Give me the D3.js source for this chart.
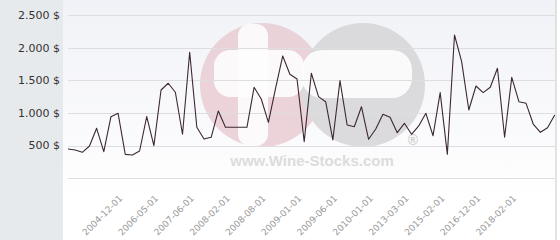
<!DOCTYPE html>
<html><head><meta charset="utf-8">
<script src="https://cdn.jsdelivr.net/npm/d3@7"></script>
<style>html,body{margin:0;padding:0;background:#fff;}svg{display:block;}</style>
</head><body>
<svg id="c" width="560" height="240"></svg>
<script>
const prices = [449,433,398,495,765,408,944,995,367,357,418,944,500,
  1352,1455,1317,674,1930,781,602,628,1031,781,781,781,781,1393,
  1214,857,1378,1873,1593,1521,561,1608,1250,1173,587,1495,816,
  790,1096,597,755,980,934,698,842,674,801,995,652,1311,
  367,2194,1786,1046,1413,1311,1393,1684,628,1546,1173,1148,831,704,775,969];
const tickLabels = ["2004-12-01","2006-05-01","2007-06-01","2008-02-01","2008-08-01","2009-01-01",
  "2009-06-01","2010-01-01","2013-03-01","2015-02-01","2016-12-01","2018-02-01"];
const tickIndex = [7,12,17,22,27,32,37,42,47,52,57,62];
const yTicks = [0,500,1000,1500,2000,2500];

const svg = d3.select("#c");
const W = 560, H = 240;
const x = d3.scalePoint().domain(d3.range(prices.length)).range([68, 554.7]);
const y = d3.scaleLinear().domain([0, 2500]).range([178.3, 15]);

const defs = svg.append("defs");
const g = defs.append("linearGradient").attr("id","bg").attr("x1",0).attr("y1",0).attr("x2",0).attr("y2",1);
g.append("stop").attr("offset","0%").attr("stop-color","#f1f2f7");
g.append("stop").attr("offset","85%").attr("stop-color","#ffffff");

svg.append("rect").attr("x",0).attr("y",0).attr("width",W).attr("height",H).attr("fill","#fff");
svg.append("rect").attr("x",63).attr("y",0).attr("width",493).attr("height",H).attr("fill","url(#bg)");
svg.append("rect").attr("x",0).attr("y",0).attr("width",63).attr("height",H).attr("fill","#e7eaed");
svg.append("line").attr("x1",556).attr("x2",556).attr("y1",0).attr("y2",H).attr("stroke","#c8c8c8");

// watermark
const wm = svg.append("g").attr("opacity",0.85);
wm.append("circle").attr("cx",262).attr("cy",85).attr("r",62).attr("fill","#e9cdd4");
wm.append("circle").attr("cx",363).attr("cy",85).attr("r",62).attr("fill","#d6d6d8");
wm.append("rect").attr("x",238).attr("y",24).attr("width",30).attr("height",122).attr("rx",12).attr("fill","#fff").attr("opacity",0.9);
wm.append("rect").attr("x",214).attr("y",50).attr("width",90).attr("height",47).attr("rx",16).attr("fill","#fff").attr("opacity",0.9);
wm.append("rect").attr("x",302).attr("y",50).attr("width",110).attr("height",48).attr("rx",20).attr("fill","#fff").attr("opacity",0.9);
svg.append("text").attr("x",312).attr("y",166).attr("text-anchor","middle")
  .attr("font-family","Liberation Sans, Arial, sans-serif").attr("font-weight","bold").attr("font-size",15)
  .attr("fill","#dcdcdc").text("www.Wine-Stocks.com");
svg.append("text").attr("x",413).attr("y",145).attr("text-anchor","middle")
  .attr("font-family","Liberation Sans, Arial, sans-serif").attr("font-weight","bold").attr("font-size",14)
  .attr("fill","#d0d0d0").text("®");

// grid + y labels
svg.append("g").selectAll("line").data(yTicks).join("line")
  .attr("x1",68).attr("x2",555).attr("y1",d=>Math.round(y(d))+0.5).attr("y2",d=>Math.round(y(d))+0.5)
  .attr("stroke","#dedede");
svg.append("g").selectAll("text").data(yTicks.filter(d=>d>0)).join("text")
  .attr("x",60).attr("y",d=>y(d)).attr("dy","0.35em").attr("text-anchor","end")
  .attr("font-family","DejaVu Sans, sans-serif").attr("font-size",11).attr("fill","#333")
  .text(d=>d3.format(",")(d).replace(",",".")+" $");

// line
svg.append("path").datum(prices)
  .attr("d", d3.line().x((d,i)=>x(i)).y(d=>y(d)))
  .attr("fill","none").attr("stroke","#3b2833").attr("stroke-width",1.1).attr("stroke-linejoin","round");

// x labels
svg.append("g").selectAll("text").data(tickLabels).join("text")
  .attr("transform",(d,i)=>`translate(${x(tickIndex[i])+5},199) rotate(-45)`)
  .attr("text-anchor","end")
  .attr("font-family","DejaVu Sans, sans-serif").attr("font-size",9).attr("fill","#999")
  .text(d=>d);
</script>
</body></html>
